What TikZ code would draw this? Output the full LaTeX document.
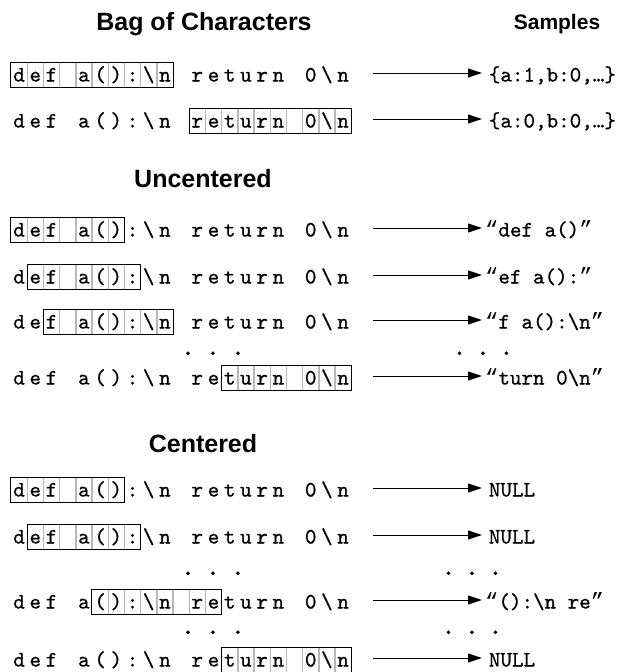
\documentclass[tikz,border=0pt]{standalone}
\usepackage{fontspec}
\setmainfont{Liberation Sans}
\newfontfamily\codefam{lmmono10-regular}[Extension=.otf, FakeBold=0.7]
\newfontfamily\quotefam{Liberation Mono}
\usetikzlibrary{arrows.meta}

\newcommand{\codefont}{\codefam\fontsize{22}{22}\selectfont}
\newcommand{\oquote}{{\quotefam“}}
\newcommand{\cquote}{{\quotefam”}}

% one line of code, one character per cell
\newcommand{\coderow}[2]{%
  \foreach \ch [count=\i from 0] in {d,e,f,{},a,{(},{)},:,\textbackslash,n,{},r,e,t,u,r,n,{},0,\textbackslash,n}
    \node[cell] (#1-\i) at ({11+16.2*(\i+0.5)},#2) {\ch};
}
% window over the cells #2..#3
\newcommand{\window}[3]{%
  \foreach \i in {#2,...,#3}
    \draw[cellsep] (#1-\i.north west) rectangle (#1-\i.south east);
  \draw[winframe] (#1-#2.north west) rectangle (#1-#3.south east);
}
% arrow and sample
\newcommand{\sample}[3]{%
  \node[sampletext] (#1-o) at (485,#2) {#3};
  \coordinate (#1-t) at (373,#2-2);
  \draw[arr] (#1-t) -- (#1-o.west |- #1-t);
}

\begin{document}
\begin{tikzpicture}[x=1pt,y=-1pt,
  cell/.style={minimum width=16.2pt, minimum height=24pt, inner sep=0pt,
    text height=14.5pt, text depth=1.5pt, font=\codefont},
  cellsep/.style={draw=black!28, line width=0.7pt},
  winframe/.style={draw=black, line width=1pt},
  sampletext/.style={anchor=west, inner sep=0pt, text height=14.5pt, text depth=1.5pt, font=\codefont},
  arr/.style={line width=1pt, -{Triangle[length=14pt,width=9pt]}, shorten >=3pt},
  title/.style={anchor=base, font=\bfseries\fontsize{25}{25}\selectfont},
  dotrow/.style={anchor=base, font=\codefam\fontsize{28}{28}\selectfont}]

  \useasboundingbox (0,0) rectangle (624,672);

  % Bag of Characters
  \node[title] (bagT) at (204,30.5) {Bag of Characters};
  \node[title, font=\bfseries\fontsize{21}{21}\selectfont] (sampT) at (557,29.5) {Samples};

  \coderow{bagA}{75}
  \window{bagA}{0}{9}
  \sample{bagA}{75}{\,\{a:1,b:0,…\}}

  \coderow{bagB}{121}
  \window{bagB}{11}{20}
  \sample{bagB}{121}{\,\{a:0,b:0,…\}}

  % Uncentered
  \node[title] (unT) at (203,187) {Uncentered};

  \coderow{unA}{230}
  \window{unA}{0}{6}
  \sample{unA}{230}{\oquote def a()\cquote}

  \coderow{unB}{277}
  \window{unB}{1}{7}
  \sample{unB}{277}{\oquote ef a():\cquote}

  \coderow{unC}{322}
  \window{unC}{2}{9}
  \sample{unC}{322}{\oquote f a():\textbackslash n\cquote}

  \node[dotrow] (unDL) at (213,355) {.\hspace{10.3pt}.\hspace{10.3pt}.};
  \node[dotrow] (unDR) at (483,355) {.\hspace{8.8pt}.\hspace{8.8pt}.};

  \coderow{unD}{378}
  \window{unD}{13}{20}
  \sample{unD}{378}{\oquote turn 0\textbackslash n\cquote}

  % Centered
  \node[title] (ceT) at (203,452) {Centered};

  \coderow{ceA}{490}
  \window{ceA}{0}{6}
  \sample{ceA}{490}{\,NULL}

  \coderow{ceB}{537}
  \window{ceB}{1}{7}
  \sample{ceB}{537}{\,NULL}

  \node[dotrow] (ceDL1) at (213,575) {.\hspace{10.3pt}.\hspace{10.3pt}.};
  \node[dotrow] (ceDR1) at (472,575) {.\hspace{8.8pt}.\hspace{8.8pt}.};

  \coderow{ceC}{602}
  \window{ceC}{5}{12}
  \sample{ceC}{602}{\oquote():\textbackslash n re\cquote}

  \node[dotrow] (ceDL2) at (213,634) {.\hspace{10.3pt}.\hspace{10.3pt}.};
  \node[dotrow] (ceDR2) at (472,634) {.\hspace{8.8pt}.\hspace{8.8pt}.};

  \coderow{ceD}{660}
  \window{ceD}{13}{20}
  \sample{ceD}{660}{\,NULL}
\end{tikzpicture}
\end{document}
